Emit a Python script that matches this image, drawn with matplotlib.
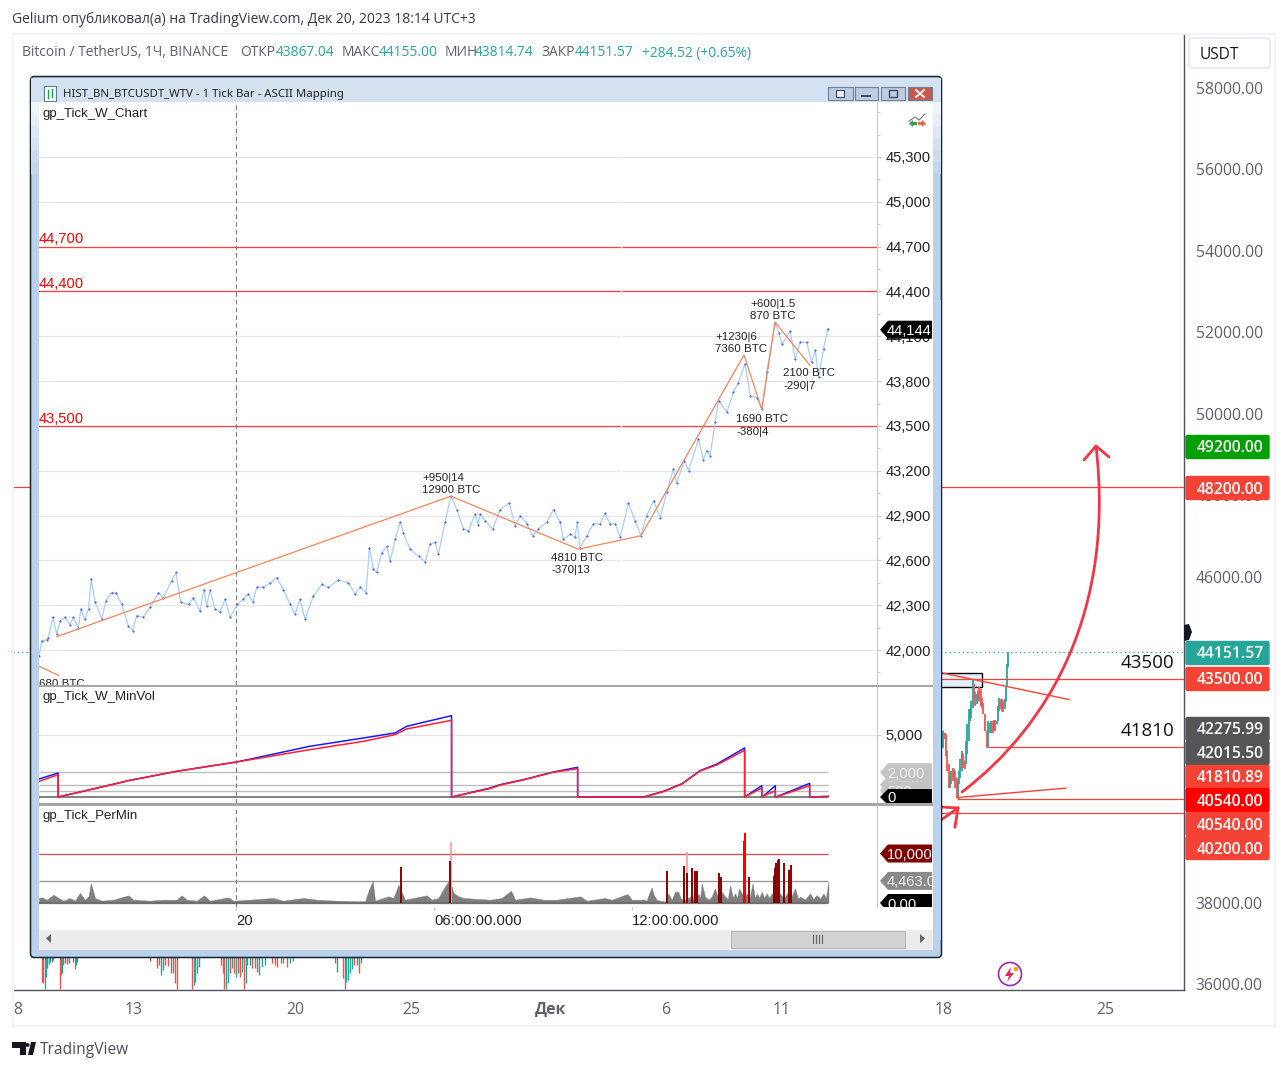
import matplotlib
matplotlib.use('Agg')
import matplotlib.pyplot as plt
from matplotlib.patches import Rectangle, Polygon, PathPatch, Circle, FancyBboxPatch
from matplotlib.path import Path
from matplotlib.ticker import FuncFormatter, MultipleLocator

W, H = 1287, 1069

# tradingview chart behind the window
price_ticks = [36000, 38000, 40000, 42000, 44000, 46000, 48000, 50000, 52000, 54000, 56000, 58000]
day_ticks = [8, 13, 20, 25, 31, 36, 41, 48, 55]
day_labels = ['8', '13', '20', '25', 'Дек', '6', '11', '18', '25']

# candles under the window, only their lows show
strip_day = [9.02, 9.09, 9.17, 9.21, 9.27, 9.33, 9.38, 9.45, 9.53, 9.79, 9.84, 9.90, 9.96, 10.03, 10.10, 10.19, 10.36, 10.45, 10.51, 10.56,
             13.70, 14.02, 14.11, 14.19, 14.28, 14.37, 14.50, 14.60, 14.71, 14.77, 14.86, 15.52, 15.61, 15.66, 15.75, 15.84,
             16.76, 16.84, 16.90, 16.99, 17.08, 17.16, 17.25, 17.33, 17.42, 17.51, 17.59, 17.68, 17.77, 17.85, 17.91, 18.03, 18.11, 18.24, 18.34, 18.43, 18.54, 18.69, 18.96, 19.09, 19.21, 19.35, 19.47, 19.64, 19.75, 19.87,
             21.70, 21.77, 22.06, 22.12, 22.17, 22.26, 22.35, 22.43, 22.52, 22.63, 22.75, 22.84]
strip_low = [36057, 36016, 35869, 36180, 36385, 36490, 36549, 36549, 36590, 35869, 36221, 36262, 36467, 36524, 36490, 36508, 36549, 36360, 36467, 36549,
             36574, 36385, 36467, 36221, 36344, 36467, 36442, 36262, 36262, 36016, 35869, 35869, 35975, 36057, 36262, 36426,
             36467, 36262, 35869, 35869, 36016, 36262, 36385, 36262, 36180, 36262, 36180, 36303, 35869, 36016, 36467, 36467, 36385, 36385, 36303, 36221, 36426, 36467, 36508, 36467, 36410, 36508, 36508, 36426, 36508, 36574,
             36508, 36303, 36139, 35869, 36057, 36098, 36262, 36360, 36467, 36467, 36262, 36508]
strip_high = [37500] * 78
strip_up = [False, False, True, True, True, True, True, True, False, False, False, True, True, False, False, True, False, False, True, True,
            False, False, False, True, True, False, False, True, False, False, False, False, True, True, True, True,
            False, False, False, True, True, False, True, False, True, False, False, True, False, True, True, True, False, True, False, True, True, True, False, False, False, True, False, False, True, True,
            False, True, False, False, True, True, True, True, False, True, False, True]

# candles right of the window
right_day = [47.99, 48.04, 48.10, 48.16, 48.22, 48.27, 48.33, 48.39, 48.45, 48.50, 48.56, 48.62, 48.68, 48.73, 48.79, 48.85, 48.91, 48.97, 49.02, 49.08, 49.14, 49.20, 49.25, 49.31, 49.37, 49.43, 49.48, 49.54, 49.60, 49.66, 49.71, 49.77, 49.89, 49.94, 50.00, 50.06, 50.12, 50.17, 50.23, 50.29, 50.35, 50.41, 50.46, 50.52, 50.58, 50.64, 50.69, 50.74, 50.77]
right_low = [41807, 42011, 41602, 41233, 40823, 40823, 40905, 40987, 41028, 40823, 40578, 40578, 40905, 41069, 41233, 41315, 41274, 41397, 41643, 41970, 42462, 42544, 42789, 43035, 42830, 42871, 42953, 42953, 42830, 42789, 42626, 42216, 41807, 41790, 42175, 42175, 42175, 42216, 42216, 42380, 42462, 42708, 42748, 42708, 42667, 42748, 42953, 43281, 43772]
right_high = [42216, 42175, 42134, 41725, 41397, 41110, 41233, 41315, 41274, 41233, 41069, 40987, 41233, 41520, 41725, 41643, 41479, 41970, 42380, 42748, 42748, 42953, 43486, 43363, 43158, 43117, 43199, 43281, 43240, 43035, 42912, 42626, 42216, 42462, 42421, 42462, 42462, 42478, 42478, 42462, 42830, 43035, 42994, 42994, 42953, 42994, 43281, 43854, 44155]
right_up = [True, False, False, False, False, True, True, False, True, False, False, True, True, True, True, False, False, True, True, True, True, True, True, False, False, True, True, False, False, False, False, False, False, True, False, True, False, True, False, True, True, True, False, False, False, True, True, True, True]

tv_levels = [48200, 43500, 41810, 40540, 40200]
tv_levels_from = [7.78, 47.0, 49.94, 48.62, 47.0]
last_price = 44151.57

tag_texts = ['49200.00', '48200.00', '44151.57', '43500.00', '42275.99', '42015.50', '41810.89', '40540.00', '40540.00', '40200.00']
tag_colors = ['#00a000', '#f44336', '#26a69a', '#f44336', '#555555', '#555555', '#f44336', '#ff0000', '#f44336', '#f44336']
tag_rows = [447, 488, 653, 679, 729, 753, 777, 800, 824, 848]

# ninja window, main pane
pane_ticks = [42000, 42300, 42600, 42900, 43200, 43500, 43800, 44100, 44400, 44700, 45000, 45300]
hours = [-5.97, -5.89, -5.74, -5.69, -5.55, -5.43, -5.33, -5.18, -5.03, -4.93, -4.78, -4.70, -4.58, -4.47, -4.39, -4.27, -4.07, -3.94, -3.77, -3.64, -3.46, -3.26, -3.13, -3.01, -2.81, -2.61, -2.35, -2.20, -1.95, -1.82, -1.68, -1.44, -1.29, -1.09, -0.97, -0.89, -0.79, -0.64, -0.48, -0.33, -0.18, 0.04, 0.22, 0.37, 0.51, 0.63, 0.83, 1.03, 1.23, 1.43, 1.64, 1.79, 1.94, 2.09, 2.34, 2.60, 2.80, 3.10, 3.40, 3.61, 3.76, 3.94, 4.04, 4.16, 4.26, 4.41, 4.57, 4.67, 4.82, 4.97, 5.07, 5.27, 5.53, 5.73, 5.88, 6.03, 6.13, 6.33, 6.51, 6.69, 6.89, 7.04, 7.24, 7.34,
         7.39, 7.55, 7.78, 8.00, 8.28, 8.46, 8.61, 8.81, 8.99, 9.16, 9.41, 9.62, 9.82, 9.92, 10.12, 10.27, 10.34, 10.42, 10.63, 10.83, 11.03, 11.18, 11.33, 11.49, 11.64, 11.89, 12.09, 12.27, 12.44, 12.65, 12.85, 13.05, 13.25, 13.35, 13.58, 13.71, 14.01, 14.16, 14.26, 14.36, 14.52, 14.62, 14.87, 15.07, 15.22, 15.42, 15.58, 15.78, 15.93, 16.08, 16.33, 16.44, 16.54, 16.79, 16.94, 17.09, 17.29, 17.44, 17.55, 17.65, 17.80, 17.93]
prices = [41960, 42060, 42070, 42080, 42220, 42105, 42195, 42220, 42170, 42220, 42150, 42275, 42205, 42275, 42475, 42320, 42210, 42330, 42385, 42385, 42305, 42160, 42130, 42230, 42220, 42285, 42385, 42350, 42465, 42520, 42320, 42305, 42350, 42260, 42405, 42295, 42400, 42275, 42255, 42340, 42220, 42305, 42340, 42375, 42320, 42420, 42420, 42450, 42485, 42405, 42305, 42240, 42340, 42205, 42360, 42440, 42420, 42470, 42450, 42375, 42420, 42385, 42685, 42540, 42520, 42650, 42695, 42595, 42740, 42855, 42785, 42675, 42630, 42590, 42710, 42720, 42640, 42855, 43030, 42940, 42810, 42795, 42910, 42840,
          42910, 42865, 42810, 42940, 42985, 42830, 42900, 42845, 42765, 42810, 42855, 42940, 42855, 42740, 42775, 42755, 42855, 42685, 42765, 42845, 42845, 42915, 42845, 42845, 42755, 42985, 42865, 42765, 42900, 43000, 42885, 43055, 43210, 43120, 43265, 43200, 43410, 43275, 43335, 43300, 43525, 43670, 43590, 43725, 43790, 43915, 43700, 43690, 43610, 43860, 44190, 44125, 44045, 44135, 43945, 44060, 44060, 43925, 44005, 43825, 44015, 44150]

swing_hours = [-5.43, 6.51, 10.37, 12.27, 15.39, 15.93, 16.33, 17.39]
swing_prices = [42090, 43030, 42675, 42765, 43975, 43610, 44195, 43905]
prev_swing_hours = [-5.97, -5.38]
prev_swing_prices = [41893, 41830]

swing_texts = ['+950|14', '12900 BTC', '4810 BTC', '-370|13', '+1230|6', '7360 BTC', '+600|1.5', '870 BTC', '2100 BTC', '-290|7', '1690 BTC', '-380|4', '680 BTC']
swing_text_x = [5.64, 5.64, 9.55, 9.55, 14.52, 14.52, 15.58, 15.58, 16.58, 16.58, 15.15, 15.15, -5.97]
swing_text_y = [43151, 43071, 42616, 42535, 44096, 44015, 44317, 44236, 43855, 43768, 43546, 43459, 41772]

red_levels = [44700, 44400, 43500]
last_tick = 44144

# ninja window, minvol pane
minvol_hours = [-5.97, -5.39, -5.39, -4.73, -3.21, -1.80, 0.02, 2.24, 3.86, 4.82, 5.17, 6.53, 6.53, 7.70, 8.00, 8.71, 9.62, 10.35, 10.35, 12.35, 12.95, 13.51, 14.06, 14.57, 15.41, 15.41, 15.93, 15.93, 16.03, 16.34, 16.34, 16.41, 17.38, 17.38, 17.94]
minvol_blue = [1450, 1935, 0, 400, 1345, 2070, 2825, 4090, 4760, 5165, 5700, 6560, 0, 726, 995, 1400, 2020, 2395, 0, 0, 457, 1076, 2125, 2660, 3955, 0, 915, 0, 190, 915, 0, 54, 1100, 0, 50]
minvol_red = [1265, 1800, 0, 400, 1345, 2070, 2825, 3820, 4490, 5030, 5490, 6185, 0, 680, 960, 1380, 2000, 2285, 0, 0, 430, 1040, 2100, 2590, 3765, 0, 726, 0, 150, 500, 0, 40, 915, 0, 40]
minvol_levels = [2000, 1000, 500]

# ninja window, permin pane
permin_hours = [-5.97, -5.89, -5.74, -5.53, -5.38, -5.23, -5.03, -4.88, -4.73, -4.58, -4.47, -4.40, -4.27, -4.07, -3.72, -3.26, -3.11, -2.61, -2.20, -1.80, -1.65, -1.49, -1.19, -0.97, -0.79, -0.23, -0.08, 0.42, 1.13, 1.43, 2.04, 2.45, 3.05, 3.66, 3.91, 4.01, 4.14, 4.21, 4.62, 4.77, 4.92, 5.12, 5.78, 5.93, 6.13, 6.33, 6.47, 6.59, 6.74, 6.89,
                7.70, 8.05, 8.33, 8.46, 8.91, 9.32, 9.72, 10.43, 10.63, 11.18, 11.39, 11.86, 11.99, 12.25,
                12.34, 12.44, 12.52, 12.59, 12.66, 12.75, 13.00, 13.10, 13.20, 13.30, 13.40, 13.47, 13.60, 13.76, 13.84, 13.91, 13.96, 14.01, 14.06, 14.11, 14.21, 14.31, 14.41, 14.51, 14.60, 14.71, 14.82, 14.90, 14.97, 15.05, 15.12, 15.18, 15.24, 15.32, 15.40, 15.47, 15.56, 15.65, 15.72, 15.78, 15.85, 15.93, 16.00, 16.08, 16.15, 16.23, 16.35, 16.48, 16.60, 16.73, 16.82, 16.94, 17.02, 17.09, 17.24, 17.39, 17.49, 17.59, 17.70, 17.80, 17.87, 17.90, 17.95]
permin_vals = [1010, 1140, 670, 1680, 1010, 470, 1010, 470, 2020, 670, 1350, 4040, 1010, 470, 670, 1550, 670, 470, 670, 670, 1550, 670, 470, 1550, 470, 1140, 470, 670, 1010, 470, 1010, 670, 470, 340, 340, 2360, 4510, 470, 1350, 1010, 3700, 670, 1550, 670, 1010, 3360, 4710, 2020, 1350, 1010,
               670, 1010, 2490, 670, 1140, 670, 670, 1350, 470, 1010, 670, 1820, 670, 670,
               741, 471, 1953, 3165, 1615, 606, 269, 1953, 606, 2290, 2220, 943, 600, 1280, 800, 3300, 1000, 1953, 900, 3970, 1280, 700, 1280, 2960, 1200, 2290, 1280, 800, 3640, 1000, 1953, 900, 2960, 1953, 1000, 1953, 1100, 3970, 1000, 1953, 1000, 2290, 1000, 1953, 1000, 1953, 1000, 1953, 1000, 2290, 1200, 2960, 900, 1280, 700, 1953, 800, 1615, 900, 1953, 1000, 2290, 4310]
spike_hours = [4.99, 6.49, 13.07, 13.56, 13.66, 13.81, 13.91, 13.96, 14.62, 14.70, 15.55, 16.29, 16.33, 16.37, 16.42, 16.46, 16.61, 16.76, 16.81]
spike_vals = [7200, 8400, 6390, 7400, 6060, 7070, 6390, 6390, 6060, 5180, 5180, 5380, 7000, 8080, 8700, 8950, 8080, 6730, 7740]
hot_hours = [15.38, 15.43]
hot_vals = [12500, 14130]
pale_hours = [6.51, 13.67]
pale_vals = [12300, 10300]
permin_levels = [10000, 4463]

time_ticks = [0, 6, 12]
time_labels = ['20', '06:00:00.000', '12:00:00.000']

TEAL = '#26a69a'
RED = '#f44336'
GREY_TXT = '#5d606b'
UI_FONT = 'Open Sans'
WIN_FONT = 'Liberation Sans'


def ax_px(x0, y0, x1, y1, z):
    return fig.add_axes([x0 / W, 1 - y1 / H, (x1 - x0) / W, (y1 - y0) / H], zorder=z)


def overlay(z):
    a = fig.add_axes([0, 0, 1, 1], zorder=z)
    a.set_xlim(0, W)
    a.set_ylim(H, 0)
    a.axis('off')
    a.patch.set_alpha(0)
    return a


def row_of(ax, value):
    return H - ax.transData.transform((0, value))[1]


def pane_tag(ax, value, text, fc, tc, half=9):
    y = row_of(ax, value)
    top.add_patch(Polygon([(880, y), (888, y - half), (932, y - half), (932, y + half), (888, y + half)], fc=fc, ec='none', zorder=3))
    top.text(887, y + 1.5, text, fontsize=10.6, family=WIN_FONT, color=tc, va='center', ha='left', zorder=3)


fig = plt.figure(figsize=(W / 100, H / 100), dpi=100, facecolor='white')

# main tv chart
ax = ax_px(13, 34, 1184, 990, 1)
ax.set_xlim(7.78, 58.39)
ax.set_ylim(35853, 59327)
for s in ['top', 'left']:
    ax.spines[s].set_visible(False)
for s in ['right', 'bottom']:
    ax.spines[s].set_color('#50535e')
    ax.spines[s].set_linewidth(1)
ax.yaxis.tick_right()
ax.set_yticks(price_ticks)
ax.set_yticklabels(['%.2f' % p for p in price_ticks], fontsize=11.3, family=UI_FONT, color=GREY_TXT)
ax.set_xticks(day_ticks)
ax.set_xticklabels(day_labels, fontsize=11.3, family=UI_FONT, color=GREY_TXT)
ax.get_xticklabels()[4].set_weight('bold')
ax.tick_params(axis='y', length=0, pad=8.5)
ax.tick_params(axis='x', length=0, pad=8.5)

ax.vlines(strip_day, strip_low, strip_high, colors=[TEAL if u else '#ef5350' for u in strip_up], lw=1.0)
ax.vlines(right_day, right_low, right_high, colors=[TEAL if u else '#ef5350' for u in right_up], lw=1.3)
for lev, d0 in zip(tv_levels, tv_levels_from):
    ax.hlines(lev, d0, 58.39, colors='#f44336', lw=0.9)
ax.axhline(last_price, color=TEAL, lw=0.9, ls=(0, (1, 2.5)))
ax.add_patch(Rectangle((46.5, 43305), 3.15, 329, fc='#e3f0fb', ec='black', lw=1, zorder=0.5))
ax.plot([47.93, 53.42], [43640, 42985], color='#f44336', lw=1)
ax.plot([48.62, 53.28], [40580, 40810], color='#f44336', lw=1)
ax.plot([48.62, 48.62], [40540, 40580], color='#f44336', lw=1)

# things drawn on top of the chart
draw = overlay(1.5)
draw.add_patch(Rectangle((12.5, 33.5), 1262, 992, fc='none', ec='#f0f3fa', lw=1.6))
arrow_color = '#f23645'
curve = Path([(962, 792), (1050, 725), (1115, 610), (1096, 446)], [Path.MOVETO, Path.CURVE4, Path.CURVE4, Path.CURVE4])
draw.add_patch(PathPatch(curve, fc='none', ec=arrow_color, lw=2, capstyle='round'))
draw.plot([1084, 1096, 1109], [460, 446, 457], color=arrow_color, lw=2, solid_capstyle='round', solid_joinstyle='round')
draw.plot([941, 958], [820, 808], color=arrow_color, lw=2)
draw.plot([941, 958, 955], [807, 808, 827], color=arrow_color, lw=2, solid_joinstyle='round')

for txt, col, row in zip(tag_texts, tag_colors, tag_rows):
    draw.add_patch(FancyBboxPatch((1186, row - 11.5), 83, 23, boxstyle='round,pad=0,rounding_size=1.5', fc=col, ec=col, lw=1))
for txt, col, row in zip(tag_texts, tag_colors, tag_rows):
    draw.text(1197, row + 1.5, txt, fontsize=11.3, family=UI_FONT, color='white', weight='semibold', va='center')

draw.text(1174, 662.5, '43500', fontsize=13.5, family=UI_FONT, color='#111111', ha='right', va='center')
draw.text(1174, 731.5, '41810', fontsize=13.5, family=UI_FONT, color='#111111', ha='right', va='center')
draw.add_patch(FancyBboxPatch((1189, 38), 81, 30, boxstyle='round,pad=0,rounding_size=3', fc='white', ec='#e0e3eb', lw=1))
draw.text(1200, 55, 'USDT', fontsize=11.2, family=UI_FONT, color='#131722', va='center')
draw.add_patch(Polygon([(1184, 625), (1189, 624), (1192, 632), (1189, 640), (1184, 641)], fc='#131722', ec='none'))
draw.add_patch(Circle((1010, 974), 11.5, fc='white', ec='#9c27b0', lw=1.2))
draw.add_patch(Polygon([(1011, 967), (1005, 976), (1009, 976), (1007, 982), (1014, 973), (1010, 973)], fc='#e91e63', ec='none'))
draw.add_patch(Circle((1016, 969), 2.2, fc='#ff9800', ec='none'))

# page header and legend
draw.text(12, 19.5, 'Gelium опубликовал(а) на TradingView.com, Дек 20, 2023 18:14 UTC+3', fontsize=10, family=UI_FONT, color='#363a45', va='center')
legend_bits = [(22, 'Bitcoin / TetherUS, 1Ч, BINANCE', GREY_TXT), (240, 'ОТКР', GREY_TXT), (276, '43867.04', TEAL), (342, 'МАКС', GREY_TXT), (379, '44155.00', TEAL),
               (445, 'МИН', GREY_TXT), (475, '43814.74', TEAL), (542, 'ЗАКР', GREY_TXT), (575, '44151.57', TEAL), (642, '+284.52 (+0.65%)', TEAL)]
for x, s, c in legend_bits:
    draw.text(x, 53, s, fontsize=9.95, family=UI_FONT, color=c, va='center')

draw.add_patch(Polygon([(12, 1042), (26, 1042), (26, 1055), (20, 1055), (20, 1048), (12, 1048)], fc='#131722', ec='none'))
draw.add_patch(Polygon([(28, 1055), (31, 1042), (36, 1042), (33, 1055)], fc='#131722', ec='none'))
draw.add_patch(Circle((27.5, 1045), 2, fc='#131722', ec='none'))
draw.text(40, 1050.5, 'TradingView', fontsize=11.2, family=UI_FONT, color='#4a4e58', va='center')

# the window
win = overlay(2)
win.add_patch(FancyBboxPatch((30.5, 76.5), 911, 881, boxstyle='round,pad=0,rounding_size=4', fc='#b9d1ea', ec='#16262e', lw=1.1))
win.add_patch(Rectangle((31, 78), 910, 24, fc='#d3e1f1', ec='none'))
for i, shade in enumerate(['#eef3f9', '#e6eef7', '#dde8f4', '#d4e2f1', '#cbdcee', '#c2d6ec']):
    win.add_patch(Rectangle((31, 102 + i * 12), 8, 12, fc=shade, ec='none'))
    win.add_patch(Rectangle((933, 102 + i * 12), 8, 12, fc=shade, ec='none'))
win.add_patch(Rectangle((39, 102), 894, 848, fc='white', ec='none'))
win.add_patch(Rectangle((39, 930), 894, 20, fc='#ececec', ec='none'))
win.add_patch(Rectangle((731, 931), 174, 17, fc='#d2d2d2', ec='#b4b4b4', lw=0.7))
for x in [813, 816, 819, 822]:
    win.plot([x, x], [935, 943], color='#666666', lw=0.8)
win.add_patch(Polygon([(51, 934), (51, 943), (46, 938.5)], fc='#666666', ec='none'))
win.add_patch(Polygon([(920, 934), (920, 943), (925, 938.5)], fc='#666666', ec='none'))
win.add_patch(Rectangle((44, 86), 12, 15, fc='white', ec='#5a7d9a', lw=0.8))
win.plot([48, 48], [90, 98], color='#1b9e4b', lw=1)
win.plot([52, 52], [89, 97], color='#1b9e4b', lw=1)
win.text(63, 94.5, 'HIST_BN_BTCUSDT_WTV - 1 Tick Bar - ASCII Mapping', fontsize=8.2, family='Noto Sans', color='#222222', va='center')
for x0, x1, fc in [(828, 853, '#bccde2'), (855, 878, '#bccde2'), (881, 905, '#bccde2'), (908, 932, '#c9584c')]:
    win.add_patch(Rectangle((x0, 87), x1 - x0, 13, fc=fc, ec='#6f8299', lw=0.8))
win.add_patch(Rectangle((836, 90), 8, 7, fc='#e8edf3', ec='#3d4a5c', lw=0.8))
win.plot([862, 870], [96, 96], color='#3d4a5c', lw=1.4)
win.add_patch(Rectangle((889, 90), 8, 7, fc='none', ec='#3d4a5c', lw=1))
win.plot([916, 924], [90, 97], color='white', lw=1.3)
win.plot([916, 924], [97, 90], color='white', lw=1.3)

# price pane
price_ax = ax_px(39, 102, 877, 685, 3)
x_lim = (-5.97, 19.42)
price_ax.set_xlim(*x_lim)
price_ax.set_ylim(41766, 45668)
price_ax.yaxis.tick_right()
price_ax.set_yticks(pane_ticks)
price_ax.yaxis.set_minor_locator(MultipleLocator(150))
price_ax.yaxis.set_major_formatter(FuncFormatter(lambda v, p: f'{int(v):,}'))
price_ax.tick_params(axis='y', which='major', length=3, color='#c8c8c8', pad=3, labelsize=10.6, labelcolor='#222222')
price_ax.tick_params(axis='y', which='minor', length=2, color='#c8c8c8')
for t in price_ax.get_yticklabels():
    t.set_family(WIN_FONT)
price_ax.set_xticks([])
price_ax.grid(axis='y', color='#e6e6e6', lw=0.9)
price_ax.axvline(11.67, color='white', lw=1, zorder=2.4)
for lev in red_levels:
    price_ax.axhline(lev, color='#ff4040', lw=0.9, zorder=2)
    price_ax.text(-5.97, lev + 1, f'{lev:,}', fontsize=10.6, family=WIN_FONT, color='red', va='bottom', ha='left')
price_ax.plot(hours, prices, color='#a9cff7', lw=0.9, zorder=3)
price_ax.plot(hours, prices, ls='none', marker='.', ms=0.9, color='#2a3ee0', zorder=3.2)
price_ax.plot(swing_hours, swing_prices, color='#f9845a', lw=0.9, zorder=3.5)
price_ax.plot(prev_swing_hours, prev_swing_prices, color='#f9845a', lw=0.9, zorder=3.5)
for s, x, y in zip(swing_texts, swing_text_x, swing_text_y):
    price_ax.text(x, y, s, fontsize=8.25, family=WIN_FONT, color='#222222', va='center', ha='left', clip_on=True, zorder=4)
price_ax.text(0.004, 0.979, 'gp_Tick_W_Chart', transform=price_ax.transAxes, fontsize=9.5, family=WIN_FONT, color='#222222', va='center')

# minvol pane
vol_ax = ax_px(39, 687, 877, 803, 3)
vol_ax.set_xlim(*x_lim)
vol_ax.set_ylim(-484, 8870)
vol_ax.yaxis.tick_right()
vol_ax.set_yticks([5000])
vol_ax.set_yticklabels(['5,000'], fontsize=10.6, family=WIN_FONT, color='#222222')
vol_ax.tick_params(axis='y', length=3, color='#c8c8c8', pad=3)
vol_ax.set_xticks([])
vol_ax.grid(axis='y', color='#e6e6e6', lw=0.9)
vol_ax.hlines(minvol_levels, x_lim[0], 17.94, colors='#bdbdbd', lw=1)
vol_ax.hlines(0, x_lim[0], 17.94, colors='#777777', lw=1.3)
vol_ax.plot(minvol_hours, minvol_blue, color='#1a1aff', lw=1.1, zorder=3)
vol_ax.plot(minvol_hours, minvol_red, color='#ff1f2f', lw=1.1, zorder=3.1)
vol_ax.text(0.004, 0.915, 'gp_Tick_W_MinVol', transform=vol_ax.transAxes, fontsize=9.5, family=WIN_FONT, color='#222222', va='center')

# permin pane
tick_ax = ax_px(39, 806, 877, 907, 3)
tick_ax.set_xlim(*x_lim)
tick_ax.set_ylim(-808, 19600)
tick_ax.yaxis.tick_right()
tick_ax.set_yticks([])
tick_ax.set_xticks(time_ticks)
tick_ax.set_xticklabels(time_labels, fontsize=10.6, family=WIN_FONT, color='#222222', ha='left')
tick_ax.tick_params(axis='x', length=2, color='#c8c8c8', pad=3)
tick_ax.hlines(permin_levels[0], x_lim[0], 17.94, colors='#c9595a', lw=1)
tick_ax.hlines(permin_levels[1], x_lim[0], 17.94, colors='#9a9a9a', lw=1)
tick_ax.fill_between(permin_hours, 0, permin_vals, color='#7f7f7f', lw=0.3, zorder=3)
tick_ax.hlines(0, x_lim[0], 17.94, colors='#6f6f6f', lw=1.6, zorder=3)
tick_ax.vlines(pale_hours, 0, pale_vals, colors='#ff9a9a', lw=1.2, zorder=3.1)
tick_ax.vlines(spike_hours, 0, spike_vals, colors='#8b0000', lw=1.4, zorder=3.3)
tick_ax.vlines(hot_hours, 0, hot_vals, colors='#ff0000', lw=1.5, zorder=3.4)
tick_ax.text(0.004, 0.905, 'gp_Tick_PerMin', transform=tick_ax.transAxes, fontsize=9.5, family=WIN_FONT, color='#222222', va='center')

for a in [price_ax, vol_ax, tick_ax]:
    for s in ['top', 'left', 'bottom']:
        a.spines[s].set_visible(False)
    a.spines['right'].set_color('#c8c8c8')
    a.axvline(0, color='#7a7a7a', lw=0.8, ls=(0, (4, 3)), zorder=2.5)

# labels over the window's panes
top = overlay(4)
top.add_patch(Rectangle((39, 685), 894, 2, fc='#a6a6a6', ec='none'))
top.add_patch(Rectangle((39, 803), 894, 3, fc='#a6a6a6', ec='none'))
pane_tag(price_ax, last_tick, f'{last_tick:,}', 'black', 'white')
pane_tag(vol_ax, 1000, '1,000', '#c4c4c4', '#eeeeee')
pane_tag(vol_ax, 2000, '2,000', '#c4c4c4', '#eeeeee')
pane_tag(vol_ax, 500, '500', '#c4c4c4', '#eeeeee')
pane_tag(vol_ax, 0, '0', 'black', 'white', half=8)
pane_tag(tick_ax, 10000, '10,000', '#800000', 'white')
pane_tag(tick_ax, 4463, '4,463.0', '#8a8a8a', '#eeeeee')
pane_tag(tick_ax, 0, '0.00', 'black', 'white')
top.add_patch(Rectangle((878, 803), 56, 3, fc='#a6a6a6', ec='none', zorder=4))
top.add_patch(Rectangle((878, 907), 56, 23, fc='white', ec='none', zorder=4))
top.add_patch(Rectangle((933, 300), 8, 640, fc='#b9d1ea', ec='none', zorder=4))
top.plot([909, 915, 919, 925], [121, 117, 120, 114], color='#777777', lw=0.8)
top.add_patch(Polygon([(909, 123.5), (913, 120), (913, 122), (917, 122), (917, 125), (913, 125), (913, 127)], fc='#2e9e57', ec='none'))
top.add_patch(Polygon([(926, 123.5), (922, 120), (922, 122), (918, 122), (918, 125), (922, 125), (922, 127)], fc='#e8663c', ec='none'))

fig.savefig('out.png', dpi=100)
